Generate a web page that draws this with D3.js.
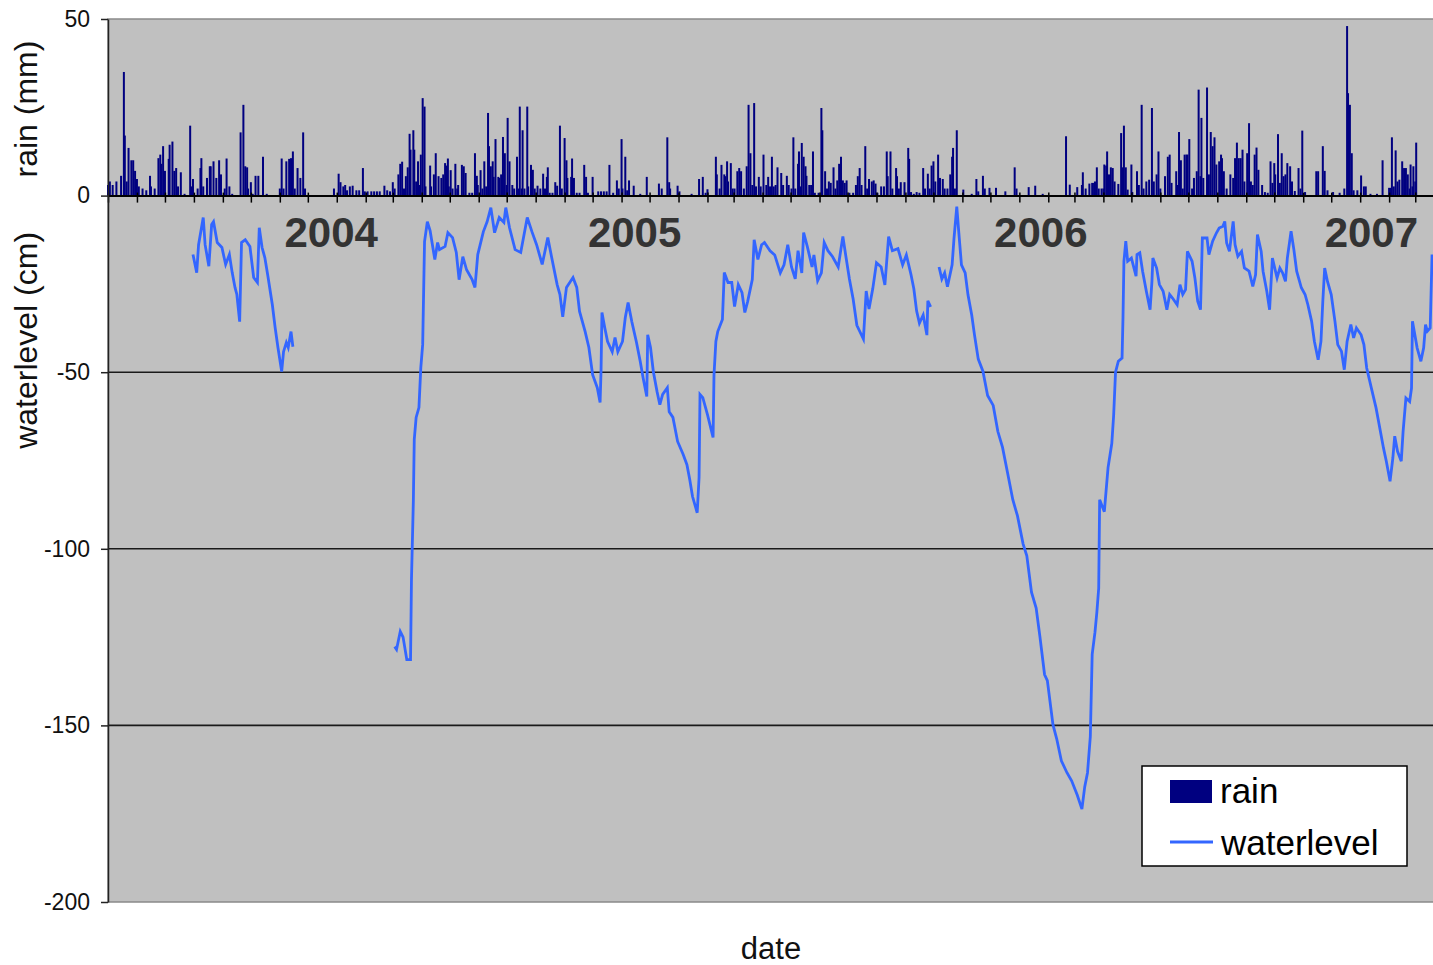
<!DOCTYPE html>
<html>
<head>
<meta charset="utf-8">
<script src="https://cdn.jsdelivr.net/npm/d3@7"></script>
<style>
  body { margin: 0; background: #fff; }
  text { font-family: 'Liberation Sans', Arial, sans-serif; }
</style>
</head>
<body>
<div id="chart"></div>
<script>
const width = 1433;
const height = 965;
const margin = { left: 108, right: 0, top: 19, bottom: 63 };

// day offsets are counted from the first day on the date axis
const START = Date.UTC(2003, 4, 1);
const N_DAYS = 1419;

const yTicks = [50, 0, -50, -100, -150, -200];
const gridValues = [-50, -100, -150];

// [day, mm]
const rainData = [
  [0, 3], [2, 4], [5, 3], [9, 4], [14, 5.6], [17, 35], [18, 17], [20, 4], [22, 13.5], [25, 10],
  [27, 10], [29, 7], [31, 4.7], [33, 2.6], [37, 2], [41, 1.5], [45, 5.6], [46, 2.6], [50, 2], [54, 10.6],
  [56, 11.6], [57, 9], [59, 14], [61, 7], [65, 10.4], [66, 14.4], [69, 15.3], [71, 7], [73, 7.8], [75, 2.6],
  [78, 6.6], [82, 0.5], [88, 19.8], [89, 2.6], [91, 4.7], [96, 2], [99, 7.8], [100, 10.6], [102, 2.6], [106, 5],
  [109, 8.3], [110, 8.3], [113, 9.7], [116, 5], [119, 10], [121, 6], [125, 2], [127, 10.5], [130, 2.6], [133, 0.5],
  [142, 17.9], [145, 25.7], [147, 8.3], [149, 8], [150, 2], [153, 3.8], [155, 0.5], [158, 5.6], [161, 5.6], [166, 11],
  [170, 0.5], [184, 2], [186, 10.5], [188, 2], [191, 9.7], [194, 10.4], [196, 10.6], [198, 12.5], [200, 2], [203, 7.8],
  [206, 5], [209, 17.9], [211, 2],
  [242, 2], [247, 6.2], [249, 3.8], [252, 2.6], [254, 3], [256, 1.5], [259, 2.6], [262, 2.8], [266, 1.5], [269, 1.5],
  [273, 7.8], [275, 1.2], [278, 1.2], [282, 1.2], [285, 1.2], [288, 1.2], [291, 1.2], [296, 2.8], [299, 1.5], [302, 1.2],
  [305, 3.8], [307, 2], [311, 6], [313, 9], [315, 9.6], [317, 2], [319, 5.5], [321, 8], [323, 17.5], [324, 13],
  [327, 18.5], [328, 13], [330, 4], [332, 9.7], [334, 3], [335, 11.6], [337, 27.6], [339, 25.2], [340, 2.6], [345, 8.5],
  [346, 2.6], [349, 6], [351, 12], [354, 5.5], [357, 5], [359, 6], [361, 9.2], [362, 8.5], [364, 10.5], [365, 2.6],
  [367, 7.2], [369, 2], [372, 9], [374, 2], [375, 3], [379, 8.7], [381, 8.3], [383, 6.4], [387, 0.8], [390, 0.8],
  [393, 12], [395, 5.6], [396, 3], [399, 7.2], [401, 2], [403, 9.7], [405, 2.6], [407, 23.4], [408, 14], [410, 8.3],
  [412, 9.7], [413, 5.3], [415, 16], [418, 5.3], [419, 5], [421, 6], [423, 16.6], [425, 12], [427, 3], [428, 22],
  [430, 9.7], [433, 3], [435, 2], [438, 11], [440, 2], [441, 25.2], [443, 2], [444, 18.5], [446, 2], [449, 25.2],
  [450, 2.6], [453, 8.7], [455, 7.3], [457, 2], [460, 2.8], [463, 2], [466, 6.2], [468, 2], [470, 5.3], [471, 8],
  [473, 0.8], [476, 0.8], [479, 3.8], [481, 2.8], [484, 19.8], [486, 2], [489, 16.3], [491, 10], [492, 5], [496, 5.3],
  [497, 10.5], [499, 5], [502, 0.8], [505, 0.8], [510, 8.7], [512, 5.3], [514, 0.8], [519, 5.3], [525, 1.2], [528, 1.2],
  [531, 1.2], [534, 1.2], [537, 8.7], [541, 0.8], [545, 4.3], [547, 2], [550, 16], [551, 2], [554, 11], [556, 1.5],
  [558, 4.3], [563, 2.8], [570, 0.5], [577, 5.3], [590, 3.4], [593, 2], [599, 16.5], [601, 3.8], [602, 2], [610, 2.8],
  [612, 1.2], [625, 0.5], [633, 4.7], [637, 5.3], [640, 0.8], [642, 1.8], [651, 11], [652, 6], [655, 2], [657, 8.7],
  [660, 6], [661, 5.5], [663, 9.7], [664, 4], [667, 9.2], [669, 2], [671, 2], [674, 6.9], [676, 7.8], [678, 6.9],
  [681, 2], [684, 8.3], [686, 25.7], [688, 12], [690, 3], [692, 26.2], [694, 2.6], [697, 5.3], [699, 2.6], [702, 11.6],
  [705, 3], [707, 5.3], [709, 2.6], [711, 11], [713, 2.6], [715, 3], [717, 8], [721, 6.4], [723, 3], [727, 5.6],
  [729, 3], [732, 2], [734, 16.5], [736, 2], [739, 9], [740, 12.5], [742, 2.6], [743, 14.9], [745, 11], [747, 8.3],
  [748, 5.6], [751, 3], [753, 3], [755, 12.5], [757, 0.8], [761, 0.8], [764, 24.8], [765, 18.5], [768, 6.9], [770, 2],
  [772, 4], [774, 3.6], [777, 8], [779, 2], [781, 4.3], [783, 9], [785, 11], [787, 4.3], [789, 3.6], [791, 4.3],
  [794, 0.8], [798, 0.8], [801, 3], [803, 5.5], [805, 7.8], [807, 3], [811, 14], [813, 2], [815, 4.7], [818, 4],
  [820, 4.3], [822, 3.4], [824, 0.8], [828, 2.6], [831, 2.6], [834, 12.5], [835, 5.5], [838, 12.5], [840, 2], [844, 7.8],
  [845, 5.5], [847, 2], [849, 3.8], [853, 3.8], [857, 13.5], [858, 10.4], [860, 1], [863, 0.5], [866, 1], [869, 0.8],
  [873, 7.8], [875, 2], [878, 6.2], [880, 2], [882, 8.5], [884, 9.7], [886, 4], [889, 11.6], [891, 5], [894, 4.7],
  [896, 2], [899, 2], [902, 6], [904, 11], [905, 13.5], [907, 2], [909, 18.5], [916, 1.7], [925, 0.5], [930, 4.7],
  [932, 1.2], [937, 5.6], [939, 2], [944, 2.2], [951, 2.2], [961, 1.2], [971, 8], [973, 2], [986, 2.4], [993, 2.8],
  [1001, 0.5], [1026, 16.8], [1030, 3.1], [1038, 2.4], [1043, 3], [1044, 6.6], [1047, 2], [1051, 3.4], [1054, 3.6], [1056, 3.6],
  [1057, 4], [1059, 8], [1061, 2], [1064, 2], [1066, 2], [1067, 8.8], [1069, 8.5], [1070, 12.5], [1072, 6], [1074, 8],
  [1076, 7.8], [1078, 4], [1082, 3.3], [1085, 17.7], [1086, 8], [1088, 19.8], [1090, 8], [1092, 1.7], [1096, 8.8], [1097, 1],
  [1102, 6.9], [1104, 3], [1107, 25.7], [1109, 2], [1112, 4], [1115, 4.5], [1118, 24.8], [1120, 4], [1123, 6], [1125, 12.5],
  [1127, 2], [1132, 5.5], [1135, 11], [1137, 11.6], [1139, 3.6], [1144, 6.9], [1145, 3], [1147, 18], [1149, 10], [1151, 2],
  [1153, 11.6], [1155, 11.6], [1156, 11.6], [1158, 16], [1161, 2], [1163, 5], [1166, 6.9], [1168, 30], [1170, 5.5], [1171, 22],
  [1173, 5], [1177, 30.6], [1179, 6], [1181, 18], [1183, 14], [1185, 16.5], [1187, 8.8], [1190, 9.7], [1192, 11.6], [1193, 10.6],
  [1195, 6.9], [1198, 2], [1202, 6], [1205, 5], [1207, 10.6], [1209, 15], [1211, 10.6], [1213, 10.6], [1215, 13], [1217, 4],
  [1220, 12], [1222, 20.5], [1224, 4], [1226, 3], [1228, 11.6], [1230, 13.6], [1232, 7.3], [1236, 3], [1239, 1], [1242, 0.8],
  [1245, 9.7], [1247, 3.6], [1249, 9.2], [1250, 6], [1253, 17.4], [1255, 3.6], [1257, 12], [1259, 5.5], [1261, 6], [1263, 9.2],
  [1266, 8.3], [1268, 4], [1271, 1.3], [1275, 7.8], [1277, 2], [1279, 18.4], [1282, 1], [1294, 6.9], [1296, 6.9], [1301, 14],
  [1303, 7], [1306, 1.5], [1312, 1], [1319, 0.8], [1324, 2], [1327, 48], [1328, 29], [1330, 25.7], [1332, 12], [1334, 1.5],
  [1338, 1.5], [1342, 5.7], [1345, 2.6], [1347, 2.6], [1352, 0.5], [1359, 0.5], [1365, 10], [1372, 2.2], [1374, 2.2], [1375, 16.5],
  [1377, 2.6], [1379, 12.8], [1381, 4], [1383, 4.5], [1386, 9.7], [1388, 7.8], [1390, 7.8], [1392, 6], [1394, 2], [1395, 8.8],
  [1397, 2.6], [1398, 8.3], [1400, 4], [1401, 15]
];

// [day, cm]; null marks a gap in the record
const waterData = [
  [91, -16.7], [95, -21.8], [97, -13.9], [102, -6.2], [104, -13.9], [108, -20], [111, -8.2], [113, -7.4], [117, -13.3], [122, -14.7],
  [126, -19.5], [130, -16.7], [133, -21.8], [136, -26], [138, -28], [141, -35.7], [143, -13.3], [147, -12.5], [152, -14.4], [156, -23.2],
  [160, -24.6], [162, -9.1], [165, -14.7], [168, -17.6], [171, -22.4], [176, -30.9], [179, -37.4], [182, -43], [186, -49.8], [188, -44.2],
  [191, -41.6], [193, -43], [196, -38.5], [198, -42.8], [199, null],
  [307, -127.7], [309, -128.5], [313, -123.4], [316, -125], [320, -131.4], [324, -131.4], [325, -108.7], [327, -86.6], [328, -69], [330, -62.8],
  [333, -60], [335, -48.7], [337, -42.2], [339, -13], [342, -7.4], [345, -10], [350, -18.1], [353, -13.3], [355, -15.3], [361, -14.4],
  [364, -10.5], [369, -11.9], [373, -16.1], [376, -23.8], [380, -17.3], [384, -21], [390, -23.8], [393, -26], [396, -16.7], [402, -10.2],
  [406, -7.4], [410, -3.4], [414, -10.5], [419, -6.2], [424, -7.6], [426, -3.4], [430, -9.1], [436, -15.3], [442, -16.1], [449, -6.2],
  [454, -10.2], [459, -13.9], [465, -19.5], [471, -11.9], [475, -17.3], [481, -25.2], [484, -28], [487, -34.3], [491, -26], [498, -23.2],
  [502, -26], [505, -32.8], [511, -38.5], [515, -43], [519, -50.7], [524, -54.4], [527, -58.6], [528, -49.8], [529, -33.1], [532, -37.4],
  [535, -41.3], [540, -44.2], [543, -40.2], [546, -44.2], [551, -41.3], [554, -34.5], [557, -30.3], [561, -35.7], [566, -41.6], [570, -47],
  [573, -51.5], [577, -56.9], [578, -39.4], [581, -43], [584, -49.8], [588, -55.5], [591, -59.2], [594, -56.3], [599, -54.4], [601, -61.2],
  [605, -62.8], [610, -69.6], [616, -73.3], [620, -76.2], [623, -80.4], [626, -85.2], [631, -89.8], [633, -79.8], [634, -56.3], [637, -57.2],
  [642, -62], [648, -68.5], [649, -50.7], [651, -41.3], [653, -38.5], [658, -35.1], [660, -21.8], [664, -24.6], [668, -24.6], [671, -31.4],
  [675, -25.2], [679, -27.5], [682, -33.1], [685, -30], [690, -23.8], [692, -12.5], [696, -18.1], [700, -13.9], [703, -13.3], [709, -15.6],
  [714, -16.8], [720, -21.9], [724, -19.6], [728, -13.9], [732, -20.2], [736, -23.6], [739, -15.6], [743, -21.9], [745, -10.5], [749, -14.5],
  [754, -20.2], [756, -16.8], [760, -24.1], [764, -21.9], [767, -13.3], [771, -15.6], [776, -17.3], [782, -20.2], [787, -11.6], [790, -16.8],
  [794, -23.6], [798, -29.3], [802, -36.7], [805, -38.4], [809, -40.6], [812, -27], [815, -32.1], [819, -26.4], [823, -19], [828, -20.2],
  [832, -25.3], [836, -11.6], [840, -15.6], [846, -15], [851, -19.6], [855, -16.8], [860, -22.4], [863, -26.4], [866, -32.7], [869, -36.1],
  [873, -33.8], [877, -39.5], [878, -29.8], [881, -31.5], [884, null],
  [890, -20.2], [893, -23.6], [896, -21.9], [899, -25.8], [904, -19.6], [906, -12.2], [909, -3.1], [911, -9.9], [914, -19.6], [918, -21.9],
  [921, -28.1], [925, -33.8], [928, -39.5], [932, -46.3], [937, -49.7], [942, -56.6], [948, -59.4], [953, -66.8], [958, -71.3], [964, -79.3],
  [969, -86.1], [974, -90.7], [980, -98.6], [984, -102], [989, -112.3], [994, -116.8], [998, -124.8], [1003, -135.6], [1006, -137.3], [1012, -149.8],
  [1016, -153.8], [1021, -160], [1027, -163.4], [1032, -165.7], [1038, -169.7], [1043, -173.7], [1046, -167.4], [1049, -163.4], [1052, -153.2], [1054, -129.9],
  [1057, -123.6], [1059, -118], [1061, -111.1], [1062, -86.1], [1067, -89.5], [1071, -77], [1075, -70.2], [1077, -62.2], [1079, -50], [1082, -46.9],
  [1086, -46], [1087, -34.6], [1088, -18.6], [1090, -12.9], [1092, -18.6], [1096, -17.7], [1101, -22.8], [1102, -16.7], [1105, -16.2], [1108, -21.4],
  [1112, -27.1], [1116, -32.3], [1118, -24.3], [1119, -17.7], [1123, -20.5], [1126, -25.2], [1130, -27.1], [1134, -32.3], [1137, -28], [1140, -29],
  [1145, -30.9], [1148, -25.2], [1151, -28], [1154, -26.6], [1156, -15.8], [1161, -18.6], [1164, -23.3], [1167, -29.9], [1170, -32.3], [1172, -12],
  [1177, -12], [1179, -16.7], [1183, -12.9], [1187, -10.6], [1190, -9.2], [1194, -8.7], [1196, -7.3], [1198, -13.4], [1201, -15.8], [1205, -7.3],
  [1207, -13.9], [1210, -17.2], [1214, -15.8], [1217, -20.5], [1222, -21.4], [1226, -25.7], [1229, -22.4], [1231, -11], [1235, -15.8], [1237, -21.4],
  [1241, -27.1], [1244, -32.3], [1247, -17.7], [1252, -23.3], [1255, -20.5], [1258, -21.9], [1261, -24.3], [1263, -17.7], [1267, -10.1], [1270, -15.3],
  [1273, -21.4], [1278, -26.1], [1282, -28], [1285, -30.9], [1289, -35.6], [1292, -41.3], [1296, -46.5], [1299, -41.3], [1301, -29.9], [1303, -20.5],
  [1306, -24.3], [1310, -28], [1314, -35.6], [1317, -42.2], [1321, -44.1], [1324, -49.3], [1327, -41.3], [1331, -36.5], [1334, -40.3], [1337, -37.5],
  [1342, -39.4], [1345, -42.2], [1348, -48.8], [1353, -54.5], [1358, -60.1], [1362, -65.8], [1366, -71.5], [1369, -75.2], [1373, -80.9], [1376, -74.3],
  [1378, -68.1], [1381, -72.4], [1385, -75.2], [1387, -66.7], [1390, -57.3], [1394, -58.3], [1396, -54.5], [1397, -35.6], [1402, -43.1], [1406, -46.9],
  [1409, -43.1], [1411, -36.5], [1413, -38.4], [1416, -37.5], [1418, -16.7]
];

// year annotations: [day at label centre, text]
const yearLabels = [[239, '2004'], [564, '2005'], [999, '2006'], [1353, '2007']];
const yearLabelLevel = -14.5;

const dayToDate = (d) => new Date(START + d * 864e5);

const svg = d3.select('#chart').append('svg').attr('width', width).attr('height', height);

const x = d3
  .scaleUtc()
  .domain([dayToDate(0), dayToDate(N_DAYS)])
  .range([margin.left, width - margin.right]);
const y = d3
  .scaleLinear()
  .domain([-200, 50])
  .range([height - margin.bottom, margin.top]);

// plot area
svg
  .append('rect')
  .attr('x', margin.left)
  .attr('y', y(50))
  .attr('width', width - margin.left + 2)
  .attr('height', y(-200) - y(50))
  .attr('fill', '#c0c0c0')
  .attr('stroke', '#8a8a8a')
  .attr('stroke-width', 1.5);

svg
  .append('g')
  .selectAll('line')
  .data(gridValues)
  .join('line')
  .attr('x1', margin.left)
  .attr('x2', width)
  .attr('y1', (d) => y(d))
  .attr('y2', (d) => y(d))
  .attr('stroke', '#1a1a1a')
  .attr('stroke-width', 1.6);

// rain columns
svg
  .append('g')
  .selectAll('rect')
  .data(rainData)
  .join('rect')
  .attr('x', (d) => x(dayToDate(d[0])) - 1)
  .attr('width', 2)
  .attr('y', (d) => y(d[1]))
  .attr('height', (d) => y(0) - y(d[1]))
  .attr('fill', '#000080');

// water level
const line = d3
  .line()
  .defined((d) => d[1] !== null)
  .x((d) => x(dayToDate(d[0])))
  .y((d) => y(d[1]));

svg
  .append('path')
  .datum(waterData)
  .attr('fill', 'none')
  .attr('stroke', '#3366ff')
  .attr('stroke-width', 2.8)
  .attr('stroke-linejoin', 'miter')
  .attr('d', line);

// date axis along the zero line, monthly ticks without labels
const xAxis = svg
  .append('g')
  .attr('transform', `translate(0, ${y(0)})`)
  .call(d3.axisBottom(x).ticks(d3.utcMonth.every(1)).tickFormat('').tickSizeInner(7).tickSizeOuter(0));
xAxis.select('.domain').attr('stroke', '#000').attr('stroke-width', 2);
xAxis.selectAll('.tick line').attr('y1', -3).attr('stroke', '#000').attr('stroke-width', 1.5);

const yAxis = svg
  .append('g')
  .attr('transform', `translate(${margin.left}, 0)`)
  .call(
    d3
      .axisLeft(y)
      .tickValues(yTicks)
      .tickFormat((d) => String(d))
      .tickSizeInner(7)
      .tickSizeOuter(0)
      .tickPadding(11),
  );
yAxis.select('.domain').attr('stroke', '#222').attr('stroke-width', 1.5);
yAxis.selectAll('.tick line').attr('stroke', '#222').attr('stroke-width', 1.5);
yAxis
  .selectAll('.tick text')
  .style('font-size', '23px')
  .style('font-family', "'Liberation Sans', Arial, sans-serif")
  .attr('fill', '#111');

// axis titles
svg
  .append('text')
  .attr('transform', `translate(37, ${y(24.5)}) rotate(-90)`)
  .style('text-anchor', 'middle')
  .style('font-size', '32px')
  .attr('fill', '#111')
  .text('rain (mm)');

svg
  .append('text')
  .attr('transform', `translate(37, ${y(-41)}) rotate(-90)`)
  .style('text-anchor', 'middle')
  .style('font-size', '32px')
  .attr('fill', '#111')
  .text('waterlevel (cm)');

svg
  .append('text')
  .attr('x', 771)
  .attr('y', 959)
  .style('text-anchor', 'middle')
  .style('font-size', '31px')
  .attr('fill', '#111')
  .text('date');

// year annotations
svg
  .append('g')
  .selectAll('text')
  .data(yearLabels)
  .join('text')
  .attr('x', (d) => x(dayToDate(d[0])))
  .attr('y', y(yearLabelLevel))
  .style('text-anchor', 'middle')
  .style('font-size', '42px')
  .style('font-weight', 'bold')
  .attr('fill', '#333')
  .text((d) => d[1]);

// legend
const legend = svg.append('g').attr('transform', 'translate(1142, 766)');
legend
  .append('rect')
  .attr('width', 265)
  .attr('height', 100)
  .attr('fill', '#fff')
  .attr('stroke', '#000')
  .attr('stroke-width', 1.5);
legend.append('rect').attr('x', 28).attr('y', 14).attr('width', 42).attr('height', 23).attr('fill', '#000080');
legend
  .append('text')
  .attr('x', 78)
  .attr('y', 37)
  .style('font-size', '35px')
  .attr('fill', '#000')
  .text('rain');
legend
  .append('line')
  .attr('x1', 28)
  .attr('x2', 71)
  .attr('y1', 76)
  .attr('y2', 76)
  .attr('stroke', '#3366ff')
  .attr('stroke-width', 2.8);
legend
  .append('text')
  .attr('x', 79)
  .attr('y', 89)
  .style('font-size', '35px')
  .attr('fill', '#000')
  .text('waterlevel');
</script>
</body>
</html>
